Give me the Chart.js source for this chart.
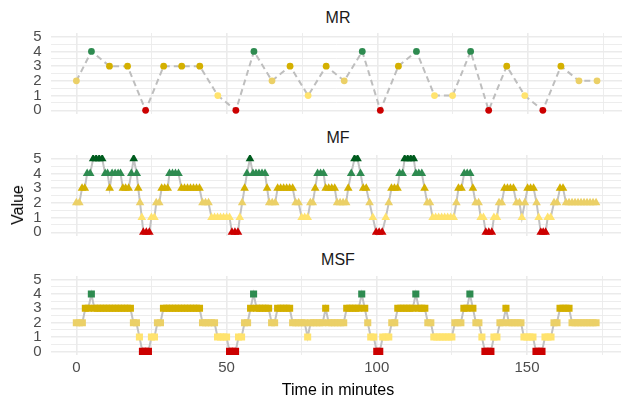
<!DOCTYPE html>
<html>
<head>
<meta charset="utf-8">
<script src="https://cdn.jsdelivr.net/npm/chart.js@4.4.0/dist/chart.umd.min.js"></script>
<style>
  html, body { margin: 0; padding: 0; background: #fff; overflow: hidden; }
  #wrap { position: relative; width: 626px; height: 403px; font-family: "Liberation Sans", Arial, sans-serif; }
  canvas { position: absolute; left: 0; }
  .strip { position: absolute; left: 50px; width: 576px; text-align: center; font-size: 16px; line-height: 18px; color: #1A1A1A; }
  #ytitle { position: absolute; left: 18px; top: 205px; font-size: 16px; line-height: 18px; color: #000;
            transform: translate(-50%, -50%) rotate(-90deg); white-space: nowrap; }
  #xtitle { position: absolute; left: 338px; top: 390px; font-size: 16px; line-height: 18px; color: #000;
            transform: translate(-50%, -50%); white-space: nowrap; }
</style>
</head>
<body>
<div id="wrap">
  <div class="strip" style="top:9px">MR</div>
  <div class="strip" style="top:129px">MF</div>
  <div class="strip" style="top:251px">MSF</div>
  <canvas id="mr" width="626" height="121" style="top:13px"></canvas>
  <canvas id="mf" width="626" height="121" style="top:134.6px"></canvas>
  <canvas id="msf" width="626" height="129" style="top:256.4px"></canvas>
  <div id="ytitle">Value</div>
  <div id="xtitle">Time in minutes</div>
</div>
<script>
// score levels 0..5 -> colour
const levelColors = ['#CC0000', '#FFE36E', '#EBD067', '#D4B000', '#2E8B50', '#005C1E'];

const timeTicks = [0, 25, 50, 75, 100, 125, 150, 175];
const timeLabels = [0, 50, 100, 150];
const valueTicks = [0, 0.5, 1, 1.5, 2, 2.5, 3, 3.5, 4, 4.5, 5];
const valueLabels = [0, 1, 2, 3, 4, 5];

// MR: sparse ratings
const mrTime = [0, 5, 11, 17, 23, 29, 35, 41, 47, 53, 59, 65, 71, 77, 83,
  89, 95, 101, 107, 113, 119, 125, 131, 137, 143, 149, 155, 161, 167, 173];
const mrValue = [2, 4, 3, 3, 0, 3, 3, 3, 1, 0, 4, 2, 3, 1, 3,
  2, 4, 0, 3, 4, 1, 1, 4, 0, 3, 1, 0, 3, 2, 2];

// MF: irregular samples
const mfTime = [
  0, 1, 1.9, 2.8, 3.6, 4.6, 5.6, 6.6, 7.6, 8.6, 9.6, 10.4, 11.1, 11.9, 12.9, 13.9, 14.7,
  15.5, 16.4, 17.4, 18.3, 19.1, 20.1, 20.6, 21.2, 21.8, 22.3, 23.3, 24.3,
  25, 26, 26.6, 27.6, 28.4, 29.4, 30.4, 31, 32, 33, 34, 35, 36, 37, 38, 39, 40, 41,
  42, 43, 44, 45, 46, 47, 48, 49, 50, 51, 51.8, 52.8, 53.8,
  54.4, 55.2, 56, 56.8, 57.8, 58.8, 59.8, 60.8, 61.8, 62.8, 63.5, 64.2, 65.2, 66.2,
  67, 68, 69, 70, 71, 72, 73, 74, 75, 76, 77, 77.9, 78.7, 79.5, 80.3, 81.3, 82.3,
  83, 84, 85, 86, 86.8, 87.8, 88.8, 89.8, 90.5, 91.5, 92.6, 93.6, 94.6, 95.5, 96.5,
  97.6, 98.7, 99.8, 100.8, 101.8, 103, 104, 104.9, 105.9, 106.9, 107.6, 108.6,
  109.3, 110.3, 111.3, 112.3, 113, 114, 115, 115.9, 116.8, 117.7,
  118.6, 119.6, 120.6, 121.6, 122.6, 123.6, 124.6, 125.6, 126.5, 127.2, 128.2, 129.1, 130.1, 131.1,
  132, 132.9, 133.9, 134.6, 135.5, 136.3, 137.3, 138.3, 139, 140, 140.7, 141.6,
  142.5, 143.5, 144.5, 145.5, 146.5, 147.5, 148.3, 149.3, 150.2, 151.2, 152.2,
  153.2, 153.9, 154.6, 155.4, 156.2, 156.9, 157.9, 159, 160, 161, 162,
  163, 164, 165, 166, 167, 168, 169, 170, 171, 172, 173
];
const mfValue = [
  2, 2, 3, 3, 4, 4, 5, 5, 5, 5, 4, 4, 3, 4, 4, 4, 4,
  3, 3, 3, 4, 5, 4, 3, 2, 1, 0, 0, 0,
  1, 1, 2, 2, 3, 3, 3, 4, 4, 4, 4, 3, 3, 3, 3, 3, 3, 3,
  2, 2, 2, 1, 1, 1, 1, 1, 1, 1, 0, 0, 0,
  1, 2, 3, 4, 5, 4, 4, 4, 4, 4, 3, 2, 2, 2,
  3, 3, 3, 3, 3, 3, 2, 2, 1, 1, 1, 2, 2, 3, 4, 4, 4,
  3, 3, 3, 3, 2, 2, 2, 2, 3, 4, 5, 5, 4, 3, 3,
  2, 1, 0, 0, 0, 1, 2, 3, 3, 3, 4, 4,
  5, 5, 5, 5, 4, 4, 4, 3, 2, 2,
  1, 1, 1, 1, 1, 1, 1, 1, 2, 3, 3, 4, 4, 4,
  3, 2, 2, 1, 1, 0, 0, 0, 1, 1, 2, 2,
  3, 3, 3, 3, 2, 2, 1, 2, 3, 3, 3,
  2, 1, 0, 0, 0, 1, 1, 2, 2, 3, 3,
  2, 2, 2, 2, 2, 2, 2, 2, 2, 2, 2
];

// MSF: one sample per minute, starting at minute 0
const msfValue = [
  2, 2, 2, 3, 3, 4, 3, 3, 3, 3,
  3, 3, 3, 3, 3, 3, 3, 3, 3, 2,
  2, 1, 0, 0, 0, 1, 1, 2, 2, 3,
  3, 3, 3, 3, 3, 3, 3, 3, 3, 3,
  3, 3, 2, 2, 2, 2, 2, 1, 1, 1,
  1, 0, 0, 0, 1, 1, 2, 2, 3, 4,
  3, 3, 3, 3, 3, 2, 2, 3, 3, 3,
  3, 3, 2, 2, 2, 2, 2, 1, 2, 2,
  2, 2, 2, 3, 2, 2, 2, 2, 2, 2,
  3, 3, 3, 3, 3, 4, 3, 2, 1, 1,
  0, 0, 1, 1, 1, 2, 2, 3, 3, 3,
  3, 3, 3, 4, 3, 3, 3, 2, 2, 1,
  1, 1, 1, 1, 1, 1, 2, 2, 2, 3,
  3, 4, 3, 2, 2, 1, 0, 0, 0, 1,
  1, 2, 2, 3, 2, 2, 2, 2, 2, 1,
  1, 1, 1, 0, 0, 0, 1, 1, 1, 2,
  2, 3, 3, 3, 3, 2, 2, 2, 2, 2,
  2, 2, 2, 2
];

const xMin = -8.6, xMax = 181.3;
const gridColor = '#EBEBEB';
const tickFont = { family: '"Liberation Sans", Arial, sans-serif', size: 15 };

function panel(id, dataset, showTime) {
  const ctx = document.getElementById(id).getContext('2d');
  return new Chart(ctx, {
    type: 'line',
    data: { datasets: [dataset] },
    options: {
      responsive: false,
      animation: false,
      events: [],
      // 20px keeps the y label half-heights inside the padding
      layout: { padding: { top: 20, bottom: showTime ? 4 : 20, left: 0, right: 0 } },
      plugins: { legend: { display: false }, tooltip: { enabled: false } },
      scales: {
        x: {
          type: 'linear', min: xMin, max: xMax,
          afterBuildTicks: s => { s.ticks = timeTicks.map(v => ({ value: v })); },
          afterFit: s => { s.height = showTime ? 26 : 0; },
          border: { display: false },
          grid: {
            color: gridColor, drawTicks: false,
            lineWidth: c => (c.tick && timeLabels.includes(c.tick.value)) ? 1.6 : 0.9
          },
          ticks: {
            display: showTime, autoSkip: false, padding: 4, color: '#4D4D4D', font: tickFont, maxRotation: 0,
            callback: v => timeLabels.includes(v) ? String(v) : ''
          }
        },
        y: {
          type: 'linear', min: -0.25, max: 5.25,
          afterBuildTicks: s => { s.ticks = valueTicks.map(v => ({ value: v })); },
          afterFit: s => { s.width = 50.5; },
          border: { display: false },
          grid: {
            color: gridColor, drawTicks: false,
            lineWidth: c => (c.tick && valueLabels.includes(c.tick.value)) ? 1.6 : 0.9
          },
          ticks: {
            autoSkip: false, padding: 9, color: '#4D4D4D', font: tickFont,
            callback: v => valueLabels.includes(v) ? String(v) : ''
          }
        }
      }
    }
  });
}

panel('mr', {
  data: mrTime.map((t, i) => ({ x: t, y: mrValue[i] })),
  borderColor: '#BEBEBE', borderWidth: 2, borderDash: [6, 4],
  pointStyle: 'circle', pointRadius: 3.4, pointBorderWidth: 0,
  pointBackgroundColor: mrValue.map(v => levelColors[v])
}, false);

panel('mf', {
  data: mfTime.map((t, i) => ({ x: t, y: mfValue[i] })),
  borderColor: '#C2C2C2', borderWidth: 2,
  pointStyle: 'triangle', pointRadius: 5, pointBorderWidth: 0,
  pointBackgroundColor: mfValue.map(v => levelColors[v])
}, false);

panel('msf', {
  data: msfValue.map((v, i) => ({ x: i, y: v })),
  borderColor: '#C2C2C2', borderWidth: 2,
  pointStyle: 'rect', pointRadius: 5, pointBorderWidth: 0,
  pointBackgroundColor: msfValue.map(v => levelColors[v])
}, true);
</script>
</body>
</html>
